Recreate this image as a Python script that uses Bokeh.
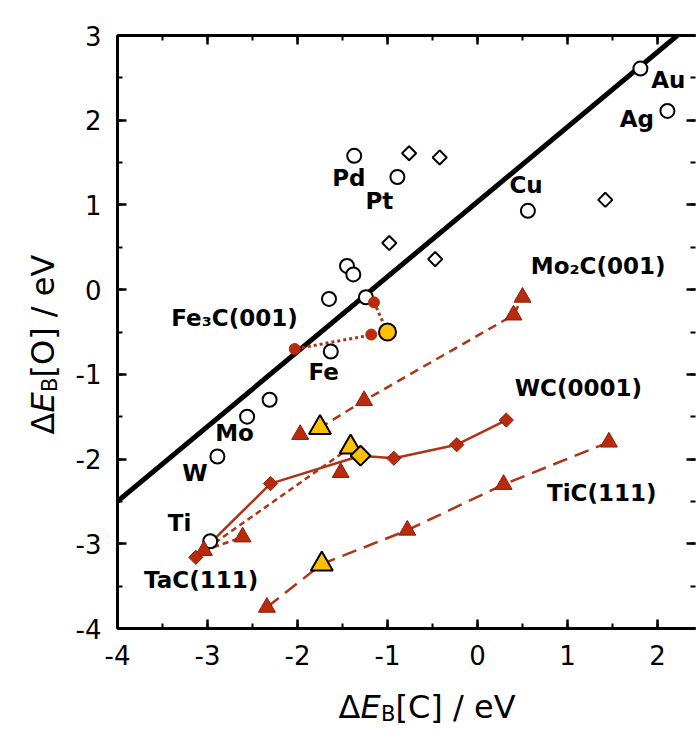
import math
from bokeh.plotting import figure
from bokeh.models import Range1d, LinearAxis, SingleIntervalTicker, Label
from bokeh.layouts import row, column
from bokeh.core.properties import value
from bokeh.embed import file_html
from bokeh.resources import INLINE

# ---------------- data ----------------
# reference line through the metals
fit_x = [-4.0, 2.22]
fit_y = [-2.5, 3.0]

# pure metals (open circles)
metal_x = [1.81, 2.11, 0.56, -0.89, -1.37, -1.45, -1.38, -1.65, -1.24, -1.63, -2.31, -2.56, -2.89, -2.97]
metal_y = [2.61, 2.11, 0.93, 1.33, 1.58, 0.28, 0.18, -0.11, -0.09, -0.73, -1.30, -1.50, -1.97, -2.97]

# other surfaces (open diamonds)
other_x = [-0.76, -0.42, 1.42, -0.98, -0.47]
other_y = [1.61, 1.56, 1.06, 0.55, 0.36]

# Fe3C(001): clean (yellow circle) and modified (red dots)
fe3c_clean_x, fe3c_clean_y = [-1.00], [-0.50]
fe3c_mod_x = [-1.15, -1.18, -2.03]
fe3c_mod_y = [-0.15, -0.53, -0.70]

# Mo2C(001): clean (yellow triangle) and modified (red triangles)
mo2c_clean_x, mo2c_clean_y = [-1.75], [-1.63]
mo2c_mod_x = [0.50, 0.40, -1.26, -1.97]
mo2c_mod_y = [-0.09, -0.30, -1.31, -1.71]

# TaC(111): clean (yellow triangle) and modified (red triangles)
tac_clean_x, tac_clean_y = [-1.41], [-1.86]
tac_mod_x = [-1.52, -2.61, -3.04]
tac_mod_y = [-2.16, -2.92, -3.08]

# WC(0001): clean (yellow diamond) and modified (red diamonds)
wc_clean_x, wc_clean_y = [-1.30], [-1.96]
wc_mod_x = [0.32, -0.23, -0.93, -2.30, -3.13]
wc_mod_y = [-1.54, -1.83, -1.99, -2.29, -3.16]

# TiC(111): clean (yellow triangle) and modified (red triangles)
tic_clean_x, tic_clean_y = [-1.73], [-3.24]
tic_mod_x = [1.46, 0.29, -0.78, -2.34]
tic_mod_y = [-1.80, -2.30, -2.84, -3.75]

# text labels
label_text = ["Pd", "Pt", "Cu", "Au", "Ag", "Fe", "Mo", "W", "Ti",
              "TaC(111)", "Fe\u2083C(001)", "Mo\u2082C(001)", "WC(0001)", "TiC(111)"]
label_x = [-1.43, -1.09, 0.54, 2.12, 1.77, -1.71, -2.70, -3.14, -3.31,
           -3.07, -2.70, 1.34, 1.12, 1.38]
label_y = [1.32, 1.05, 1.24, 2.47, 2.02, -0.97, -1.69, -2.16, -2.75,
           -3.43, -0.34, 0.28, -1.16, -2.40]

# tick labels
x_ticks = [-4, -3, -2, -1, 0, 1, 2]
x_tick_labels = ["-4", "-3", "-2", "-1", "0", "1", "2"]
y_ticks = [-4, -3, -2, -1, 0, 1, 2, 3]
y_tick_labels = ["-4", "-3", "-2", "-1", "0", "1", "2", "3"]

# axis titles (pieces: main, italic, subscript, rest)
x_title = ["\u0394", "E", "B", "[C] / eV"]
y_title = ["\u0394", "E", "B", "[O] / eV"]

# ---------------- layout ----------------
W, H = 696, 731
YT_W = 70          # width of the y-title strip
XT_H = 51          # height of the x-title strip
MW, MH = W - YT_W, H - XT_H
L, R, T, B = 117 - YT_W, 1, 35, 52
FW = MW - L - R    # frame width of the main plot
XMIN = -4.0
XMAX = XMIN + FW / 90.0
YMIN, YMAX = -4.0, 3.0

RED = "#BA2A0C"
RED_EDGE = "#8E1C05"
LINE = "#AA3518"
YEL = "#FFC000"
FONT = "DejaVu Sans"

p = figure(width=MW, height=MH, x_range=Range1d(XMIN, XMAX), y_range=Range1d(YMIN, YMAX),
           output_backend="svg", toolbar_location=None, title=None,
           min_border_left=L, min_border_right=R, min_border_top=T, min_border_bottom=B)
p.grid.visible = False
p.outline_line_color = None
p.background_fill_color = "white"
p.border_fill_color = "white"


def style_axis(ax, show_labels, line=True):
    ax.ticker = SingleIntervalTicker(interval=1, num_minor_ticks=2)
    ax.axis_line_width = 3
    ax.axis_line_color = "black" if line else None
    ax.major_tick_in = 9
    ax.major_tick_out = 0
    ax.minor_tick_in = 5
    ax.minor_tick_out = 0
    ax.major_tick_line_width = 2.5
    ax.minor_tick_line_width = 2
    ax.major_tick_line_color = "black"
    ax.minor_tick_line_color = "black"
    ax.major_label_text_font = FONT
    if show_labels:
        ax.major_label_text_font_size = "26px"
        ax.major_label_text_color = "black"
    else:
        ax.major_label_text_font_size = "1px"
        ax.major_label_text_color = None
        ax.major_label_standoff = 0


style_axis(p.xaxis[0], True)
style_axis(p.yaxis[0], True)
p.xaxis[0].major_label_standoff = 16
p.yaxis[0].major_label_standoff = 16
p.xaxis[0].major_label_overrides = dict(zip(x_ticks, x_tick_labels))
p.yaxis[0].major_label_overrides = dict(zip(y_ticks, y_tick_labels))

top_ax = LinearAxis()
style_axis(top_ax, False)
p.add_layout(top_ax, "above")
right_ax = LinearAxis()
style_axis(right_ax, False, line=False)
p.add_layout(right_ax, "right")

# reference line
p.line(fit_x, fit_y, line_color="black", line_width=5)

# Fe3C dotted connections
for mx, my in zip(fe3c_mod_x, fe3c_mod_y):
    p.line([fe3c_clean_x[0], mx], [fe3c_clean_y[0], my], line_color=LINE, line_width=3, line_dash="3 3")

# Mo2C dashed line (clean point and modifications ordered along x)
pts = sorted(zip(mo2c_mod_x[:3] + mo2c_clean_x, mo2c_mod_y[:3] + mo2c_clean_y))
p.line([a for a, b in pts], [b for a, b in pts], line_color=LINE, line_width=2.5, line_dash="9 6")

# TaC dashed arrows
p.line([tac_clean_x[0], tac_mod_x[2]], [tac_clean_y[0], tac_mod_y[2]], line_color=LINE, line_width=2.5, line_dash="6 4")
p.line([tac_mod_x[2], tac_mod_x[1]], [tac_mod_y[2], tac_mod_y[1]], line_color=LINE, line_width=2.5, line_dash="6 4")

# WC solid line
pts = sorted(zip(wc_mod_x + wc_clean_x, wc_mod_y + wc_clean_y))
p.line([a for a, b in pts], [b for a, b in pts], line_color=LINE, line_width=2.5)

# TiC long dashed line
pts = sorted(zip(tic_mod_x + tic_clean_x, tic_mod_y + tic_clean_y))
p.line([a for a, b in pts], [b for a, b in pts], line_color=LINE, line_width=2.5, line_dash="15 8")

# open markers
p.scatter(metal_x, metal_y, marker="circle", size=14, fill_color="white", line_color="black", line_width=2)
p.scatter(other_x, other_y, marker="square", angle=math.pi / 4, size=10,
          fill_color="white", line_color="black", line_width=2)

# red modified markers
p.scatter(fe3c_mod_x, fe3c_mod_y, marker="circle", size=11, fill_color=RED, line_color=RED, line_width=1)
p.scatter(mo2c_mod_x + tac_mod_x + tic_mod_x, mo2c_mod_y + tac_mod_y + tic_mod_y,
          marker="triangle", size=17, fill_color=RED, line_color=RED_EDGE, line_width=1)
p.scatter(wc_mod_x, wc_mod_y, marker="square", angle=math.pi / 4, size=10,
          fill_color=RED, line_color=RED_EDGE, line_width=1)

# yellow clean-surface markers
p.scatter(fe3c_clean_x, fe3c_clean_y, marker="circle", size=17, fill_color=YEL, line_color="black", line_width=2)
p.scatter(mo2c_clean_x + tac_clean_x + tic_clean_x, mo2c_clean_y + tac_clean_y + tic_clean_y,
          marker="triangle", size=22, fill_color=YEL, line_color="black", line_width=2)
p.scatter(wc_clean_x, wc_clean_y, marker="square", angle=math.pi / 4, size=14,
          fill_color=YEL, line_color="black", line_width=2)

# text labels
for t, x, y in zip(label_text, label_x, label_y):
    p.add_layout(Label(x=x, y=y, text=t, text_font=FONT, text_font_style="bold",
                       text_font_size="23px", text_align="center", text_baseline="middle",
                       text_color="black"))


def strip(w, h, bl, br, xr):
    f = figure(width=w, height=h, x_range=Range1d(0, xr), y_range=Range1d(0, h),
               output_backend="svg", toolbar_location=None, title=None,
               x_axis_location=None, y_axis_location=None,
               min_border=0, min_border_left=bl, min_border_right=br,
               min_border_top=0, min_border_bottom=0)
    f.grid.visible = False
    f.outline_line_color = None
    f.background_fill_color = "white"
    f.border_fill_color = "white"
    return f


# piece offsets along the title: Δ, E(italic), B(subscript), rest
offs = [0, 22, 42.5, 57]
sizes = ["32px", "32px", "21px", "32px"]
styles = ["normal", "italic", "normal", "normal"]
subs = [0, 0, 7, 0]

# x-axis title strip (below the plot); its frame lines up with the main frame
xt = strip(MW, XT_H, L, R, FW)
x0 = 338 - 117
base = 706
for txt, off, sz, st, sb in zip(x_title, offs, sizes, styles, subs):
    xt.text(x=[x0 + off], y=[H - (base + sb)], text=[txt], text_font=value(FONT),
            text_font_size=value(sz), text_font_style=st, text_align="left",
            text_baseline="alphabetic", text_color="black")

# y-axis title strip (left of the plot), rotated
yt = strip(YT_W, H, 0, 0, YT_W)
y0 = 434
for txt, off, sz, st, sb in zip(y_title, offs, sizes, styles, subs):
    yt.text(x=[42 + sb], y=[H - (y0 - off)], text=[txt], text_font=value(FONT),
            text_font_size=value(sz), text_font_style=st, text_align="left",
            text_baseline="alphabetic", angle=math.pi / 2, text_color="black")

layout = row(yt, column(p, xt))
open("out.html", "w").write(file_html(layout, INLINE))
